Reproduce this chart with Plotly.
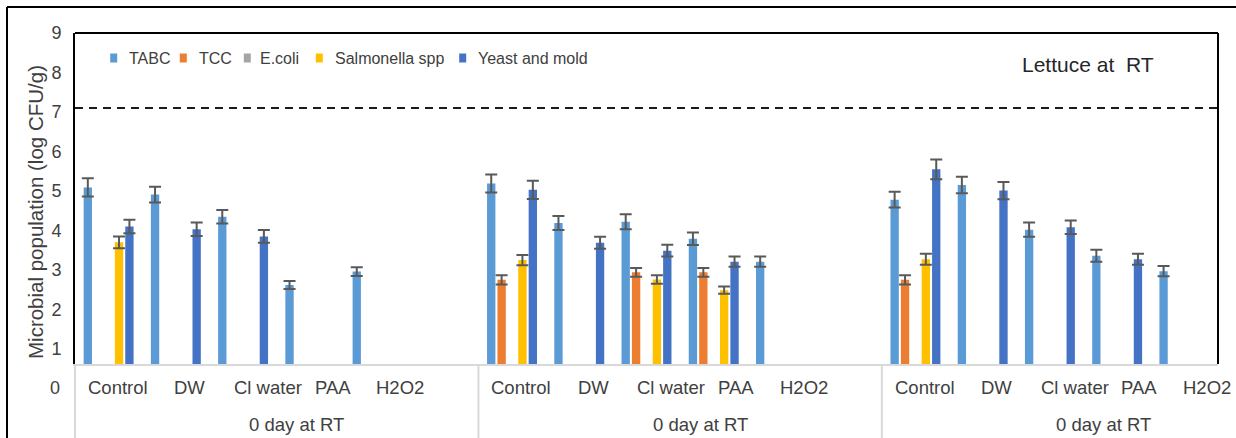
import plotly.graph_objects as go

# ---------------- data ----------------
group_labels = ["0 day at RT", "0 day at RT", "0 day at RT"]
treatments = ["Control", "DW", "Cl water", "PAA", "H2O2"]
series_names = ["TABC", "TCC", "E.coli", "Salmonella spp", "Yeast and mold"]
series_colors = ["#5B9BD5", "#ED7D31", "#A5A5A5", "#FFC000", "#4472C4"]

# values listed per group (3) x treatment (5)
tabc = [5.09, 4.91, 4.35, 2.62, 2.96,
        5.19, 4.19, 4.22, 3.79, 3.21,
        4.78, 5.15, 4.02, 3.36, 2.97]
tabc_err = [0.23, 0.20, 0.17, 0.10, 0.11,
            0.23, 0.18, 0.19, 0.16, 0.13,
            0.20, 0.21, 0.18, 0.15, 0.13]
tcc = [None, None, None, None, None,
       2.75, None, 2.94, 2.94, None,
       2.75, None, None, None, None]
tcc_err = [None, None, None, None, None,
           0.12, None, 0.11, 0.11, None,
           0.12, None, None, None, None]
ecoli = [None] * 15
ecoli_err = [None] * 15
salmonella = [3.70, None, None, None, None,
              3.25, None, 2.76, 2.49, None,
              3.27, None, None, None, None]
salmonella_err = [0.15, None, None, None, None,
                  0.13, None, 0.11, 0.09, None,
                  0.14, None, None, None, None]
yeast_mold = [4.10, 4.03, 3.85, None, None,
              5.03, 3.69, 3.49, 3.21, None,
              5.55, 5.01, 4.08, 3.27, None]
yeast_mold_err = [0.17, 0.17, 0.16, None, None,
                  0.23, 0.15, 0.15, 0.13, None,
                  0.25, 0.22, 0.17, 0.14, None]
limit_value = 7.1
y_tick_values = [1, 2, 3, 4, 5, 6, 7, 8, 9]
chart_note = "Lettuce at\u00a0 RT"
y_title = "Microbial population (log CFU/g)"

all_values = [tabc, tcc, ecoli, salmonella, yeast_mold]
all_errors = [tabc_err, tcc_err, ecoli_err, salmonella_err, yeast_mold_err]

# ---------------- layout constants ----------------
W, H = 1236, 438
ML, MR, MT, MB = 75, 18, 33, 74
PW, PH = W - ML - MR, H - MT - MB
SLOTS_PER_GROUP = 6
X_RANGE = [-0.5, 16.5]
Y_RANGE = [0.62, 9]
PITCH = 0.1547
BAR_W = 0.124
LABEL_OFFSETS = [0.14, 1.21, 2.37, 3.33, 4.34]
GROUP_LABEL_OFFSET = 2.8
FONT = "Liberation Sans, Arial, sans-serif"
TXT = "#404040"


def px_x(px):
    return (px - ML) / PW


def px_y(py):
    return (H - MB - py) / PH


def data_x_to_paper(x):
    return (x - X_RANGE[0]) / (X_RANGE[1] - X_RANGE[0])


fig = go.Figure()
n_t = len(treatments)
for k, (name, vals, errs, col) in enumerate(zip(series_names, all_values, all_errors, series_colors)):
    xs = []
    for i in range(len(vals)):
        g, t = divmod(i, n_t)
        xs.append(g * SLOTS_PER_GROUP + t + (k - 2) * PITCH)
    fig.add_trace(go.Bar(
        x=xs, y=vals, name=name, width=BAR_W,
        marker=dict(color=col, line=dict(width=0)),
        error_y=dict(type="data", array=errs, visible=True,
                     color="#595959", thickness=2, width=6),
        showlegend=False,
    ))

shapes = []
# plot frame: top and right black lines
shapes.append(dict(type="line", xref="paper", yref="paper", x0=0, x1=1, y0=1, y1=1,
                   line=dict(color="black", width=2)))
shapes.append(dict(type="line", xref="paper", yref="paper", x0=1, x1=1, y0=0, y1=1,
                   line=dict(color="black", width=2)))
# outer frame (top and left)
shapes.append(dict(type="line", xref="paper", yref="paper", x0=px_x(7), x1=px_x(W),
                   y0=px_y(7), y1=px_y(7), line=dict(color="black", width=2)))
shapes.append(dict(type="line", xref="paper", yref="paper", x0=px_x(7), x1=px_x(7),
                   y0=px_y(7), y1=px_y(H), line=dict(color="black", width=2)))
# group dividers below the axis
for g in range(len(group_labels)):
    xe = data_x_to_paper(g * SLOTS_PER_GROUP - 0.5)
    shapes.append(dict(type="line", xref="paper", yref="paper", x0=xe, x1=xe,
                       y0=0, y1=px_y(H), line=dict(color="#D9D9D9", width=2)))
# limit line
shapes.append(dict(type="line", xref="paper", yref="y", x0=0, x1=1,
                   y0=limit_value, y1=limit_value,
                   line=dict(color="#1a1a1a", width=2, dash="8px,6px")))

annotations = []
# legend (manual)
leg_sym_px = [113.7, 183.3, 247.3, 319.3, 462.7]
leg_txt_px = [126.7, 196.7, 258.3, 333.3, 476.0]
leg_y = 58
for name, col, sx, tx in zip(series_names, series_colors, leg_sym_px, leg_txt_px):
    shapes.append(dict(type="rect", xref="paper", yref="paper",
                       x0=px_x(sx - 3.5), x1=px_x(sx + 3.5),
                       y0=px_y(leg_y + 4.5), y1=px_y(leg_y - 4.5),
                       fillcolor=col, line=dict(width=0)))
    annotations.append(dict(xref="paper", yref="paper", x=px_x(tx), y=px_y(leg_y),
                            xanchor="left", yanchor="middle", showarrow=False,
                            text=name, font=dict(family=FONT, size=16, color=TXT)))

# category labels
for g, gl in enumerate(group_labels):
    for t, tr in enumerate(treatments):
        annotations.append(dict(xref="x", yref="paper",
                                x=g * SLOTS_PER_GROUP + LABEL_OFFSETS[t], y=px_y(387),
                                xanchor="center", yanchor="middle", showarrow=False,
                                text=tr, font=dict(family=FONT, size=18.5, color=TXT)))
    annotations.append(dict(xref="x", yref="paper",
                            x=g * SLOTS_PER_GROUP + GROUP_LABEL_OFFSET, y=px_y(424),
                            xanchor="center", yanchor="middle", showarrow=False,
                            text=gl, font=dict(family=FONT, size=18.5, color=TXT)))

# "0" tick label below the plot area
zero_y = (0 - Y_RANGE[0]) / (Y_RANGE[1] - Y_RANGE[0])
annotations.append(dict(xref="paper", yref="paper", x=px_x(62), y=zero_y,
                        xanchor="right", yanchor="middle", showarrow=False,
                        text="0", font=dict(family=FONT, size=18, color=TXT)))
# y title
annotations.append(dict(xref="paper", yref="paper", x=px_x(35), y=px_y(212),
                        xanchor="center", yanchor="middle", showarrow=False,
                        textangle=-90, text=y_title,
                        font=dict(family=FONT, size=20.5, color=TXT)))
# note
annotations.append(dict(xref="paper", yref="paper", x=px_x(1156), y=px_y(64),
                        xanchor="right", yanchor="middle", showarrow=False,
                        text=chart_note, font=dict(family=FONT, size=21, color="#262626")))

fig.update_layout(
    width=W, height=H,
    margin=dict(l=ML, r=MR, t=MT, b=MB, pad=0),
    paper_bgcolor="white", plot_bgcolor="white",
    barmode="overlay",
    shapes=shapes, annotations=annotations,
    xaxis=dict(range=X_RANGE, showticklabels=False, showgrid=False, zeroline=False,
               showline=True, linecolor="#D9D9D9", linewidth=2, ticks=""),
    yaxis=dict(range=Y_RANGE, tickvals=y_tick_values, showgrid=False, zeroline=False,
               showline=True, linecolor="black", linewidth=2, ticks="",
               ticklabelstandoff=8,
               tickfont=dict(family=FONT, size=18, color=TXT)),
    font=dict(family=FONT),
)

fig.write_html("out.html")
